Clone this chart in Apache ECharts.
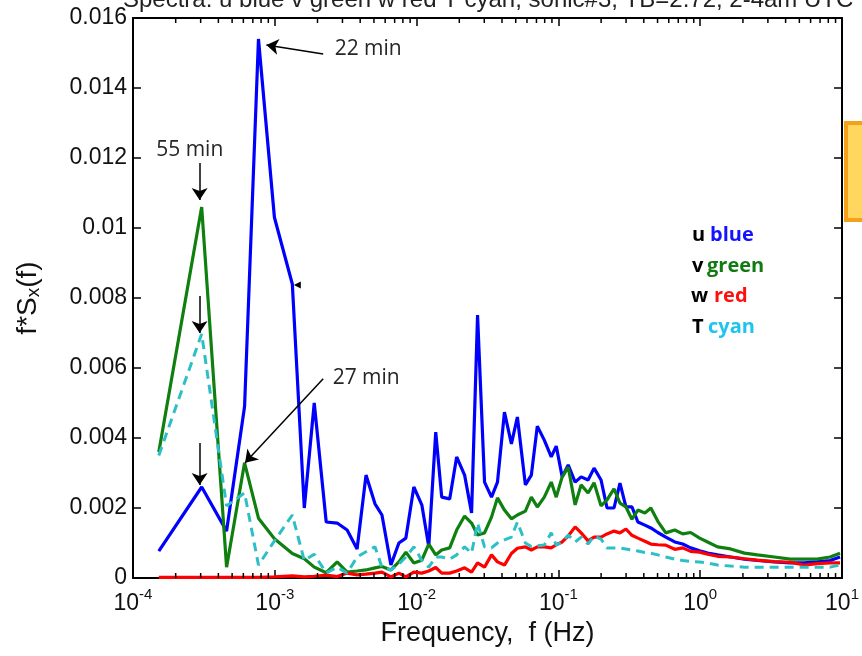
<!DOCTYPE html>
<html>
<head>
<meta charset="utf-8">
<script src="https://cdn.jsdelivr.net/npm/echarts@6/dist/echarts.min.js"></script>
<style>
  html, body { margin: 0; padding: 0; background: #fff; }
  #main { width: 862px; height: 656px; }
</style>
</head>
<body>
<div id="main"></div>
<script>
// frequency bins (Hz), shared by all four spectra
var freq = [1.52e-4, 3.05e-4, 4.57e-4, 6.12e-4, 7.67e-4, 9.94e-4, 1.329e-3, 1.614e-3, 1.897e-3, 2.304e-3,
  2.752e-3, 3.235e-3, 3.803e-3, 4.398e-3, 5.087e-3, 5.696e-3, 6.588e-3, 7.499e-3, 8.40e-3, 9.56e-3,
  1.088e-2, 1.218e-2, 1.364e-2, 1.503e-2, 1.711e-2, 1.916e-2, 2.180e-2, 2.441e-2, 2.690e-2, 3.013e-2,
  3.374e-2, 3.717e-2, 4.163e-2, 4.661e-2, 5.136e-2, 5.847e-2, 6.442e-2, 7.098e-2, 7.95e-2, 8.90e-2,
  9.65e-2, 0.1063, 0.1172, 0.1312, 0.1446, 0.1619, 0.1784, 0.1998, 0.2202, 0.2466,
  0.2716, 0.2993, 0.3298, 0.3634, 0.4071, 0.4485, 0.5023, 0.5715, 0.6611, 0.7522,
  0.8561, 0.9904, 1.127, 1.325, 1.635, 2.050, 2.530, 3.331, 4.314, 5.409,
  6.674, 8.236, 9.68];

// u (blue)
var uVals = [0.00077, 0.0026, 0.00134, 0.0049, 0.0154, 0.0103, 0.0084, 0.0020, 0.0050, 0.0016,
  0.00157, 0.00137, 0.00083, 0.00294, 0.00212, 0.0018, 0.00037, 0.0010, 0.00114, 0.0026,
  0.00209, 0.0009, 0.00417, 0.00231, 0.00226, 0.00346, 0.00294, 0.00186, 0.00751, 0.00274,
  0.00231, 0.00274, 0.00474, 0.00383, 0.0046, 0.00266, 0.00294, 0.00434, 0.00394, 0.00346,
  0.00377, 0.00289, 0.00323, 0.00274, 0.00289, 0.0028, 0.00314, 0.0028, 0.0020, 0.0020,
  0.00271, 0.00203, 0.00203, 0.0016, 0.00151, 0.00143, 0.0013, 0.00117, 0.00103, 0.00097,
  0.00086, 0.00078, 0.00071, 0.00066, 0.0006, 0.00054, 0.0005, 0.00046, 0.00043, 0.00043,
  0.00046, 0.0005, 0.0006];

// v (green)
var vVals = [0.0036, 0.0106, 0.00031, 0.00329, 0.00171, 0.00112, 0.0007, 0.00055, 0.00031, 0.00015,
  0.00046, 0.00017, 0.0002, 0.00023, 0.00029, 0.00033, 0.00023, 0.00046, 0.00074, 0.00043,
  0.00051, 0.00097, 0.00066, 0.0008, 0.00086, 0.00137, 0.00177, 0.00157, 0.00123, 0.00129,
  0.00174, 0.00229, 0.00194, 0.00169, 0.0018, 0.00191, 0.00231, 0.00203, 0.00231, 0.00274,
  0.00231, 0.00289, 0.00317, 0.00209, 0.00266, 0.00243, 0.00272, 0.00206, 0.00223, 0.00255,
  0.00214, 0.00203, 0.00168, 0.00194, 0.00186, 0.002, 0.00162, 0.00129, 0.00137, 0.00126,
  0.0013, 0.00114, 0.00103, 0.00089, 0.00083, 0.00071, 0.00066, 0.0006, 0.00054, 0.00054,
  0.00054, 0.0006, 0.00071];

// w (red)
var wVals = [0.00002, 0.00002, 0.00002, 0.00002, 0.00002, 0.00003, 0.00006, 0.00003, 0.00005, 0.00008,
  0.00004, 0.00014, 0.00009, 0.00011, 0.00014, 0.00017, 0.00003, 0.00014, 0.00003, 0.00017,
  0.00014, 0.0002, 0.0003, 0.00014, 0.00014, 0.0002, 0.00029, 0.00017, 0.00043, 0.00031,
  0.00066, 0.00046, 0.00037, 0.0007, 0.00085, 0.00089, 0.0008, 0.00089, 0.00089, 0.00086,
  0.00095, 0.00103, 0.0012, 0.00146, 0.00129, 0.00106, 0.00117, 0.00117, 0.00126, 0.00134,
  0.00129, 0.0014, 0.00122, 0.00114, 0.00105, 0.00097, 0.00095, 0.00094, 0.00082, 0.00086,
  0.00076, 0.00074, 0.00068, 0.00062, 0.0006, 0.00055, 0.00051, 0.00047, 0.00045, 0.00037,
  0.00041, 0.00043, 0.00043];

// T (cyan, dashed)
var tVals = [0.0035, 0.00697, 0.00206, 0.00243, 0.00037, 0.00106, 0.0018, 0.0005, 0.00068, 0.00014,
  0.00031, 0.00014, 0.0006, 0.00075, 0.00089, 0.00031, 0.00023, 0.0004, 0.0006, 0.00089,
  0.00051, 0.00031, 0.0006, 0.0006, 0.00054, 0.00066, 0.00089, 0.00071, 0.00157, 0.00089,
  0.00086, 0.001, 0.00109, 0.00117, 0.0016, 0.001, 0.0009, 0.00092, 0.00094, 0.00129,
  0.00094, 0.00103, 0.00123, 0.00103, 0.00117, 0.00097, 0.0012, 0.00111, 0.00086, 0.00086,
  0.00086, 0.00083, 0.0008, 0.00077, 0.00073, 0.00071, 0.00066, 0.0006, 0.00054, 0.0005,
  0.00047, 0.00046, 0.00043, 0.00037, 0.00034, 0.00031, 0.00031, 0.00031, 0.00031, 0.00031,
  0.00031, 0.00031, 0.00037];

// minor ticks of the log axis (2..9 inside each decade)
var minorTicks = [];
for (var d = -4; d < 1; d++) {
  for (var m = 2; m <= 9; m++) minorTicks.push([m * Math.pow(10, d), 0]);
}

function pairs(vals) {
  return freq.map(function (f, i) { return [f, vals[i]]; });
}

var FONT = 'Liberation Sans';
var chart = echarts.init(document.getElementById('main'));

var frameLine = { show: true, onZero: false, lineStyle: { color: '#000', width: 2 } };
var tickStyle = { color: '#000', width: 1.5 };

chart.setOption({
  animation: false,
  backgroundColor: '#fff',
  title: {
    text: 'Spectra: u blue v green w red T cyan, sonic#3, TB=2.72, 2-4am UTC',
    left: 118, top: -17,
    textStyle: { fontSize: 24, fontWeight: 'normal', color: '#222', fontFamily: FONT }
  },
  grid: { left: 133, right: 17, top: 18, bottom: 78 },
  xAxis: [{
    type: 'log', logBase: 10, min: 1e-4, max: 10,
    axisLine: frameLine,
    axisTick: { inside: true, length: 8, lineStyle: tickStyle },
    splitLine: { show: false },
    axisLabel: {
      margin: 9,
      formatter: function (v) { return '{b|10}{s|' + Math.round(Math.log10(v)) + '}'; },
      rich: {
        b: { fontSize: 23, fontFamily: FONT, color: '#111', lineHeight: 28, verticalAlign: 'bottom' },
        s: { fontSize: 15, fontFamily: FONT, color: '#111', lineHeight: 16, verticalAlign: 'top' }
      }
    },
    name: 'Frequency,  f (Hz)', nameLocation: 'middle', nameGap: 42,
    nameTextStyle: { fontSize: 27, fontFamily: FONT, color: '#111' }
  }, {
    type: 'log', logBase: 10, min: 1e-4, max: 10, position: 'top',
    axisLine: frameLine,
    axisTick: { inside: true, length: 8, lineStyle: tickStyle },
    axisLabel: { show: false }, splitLine: { show: false }
  }],
  yAxis: [{
    type: 'value', min: 0, max: 0.016, interval: 0.002,
    axisLine: frameLine,
    axisTick: { show: true, inside: true, length: 8, lineStyle: tickStyle },
    splitLine: { show: false },
    axisLabel: { fontSize: 23, fontFamily: FONT, color: '#111', margin: 6 },
    name: '{a|f*S}{x|x}{a|(f)}', nameLocation: 'middle', nameGap: 90, nameRotate: 90,
    nameTextStyle: {
      rich: {
        a: { fontSize: 28, fontFamily: FONT, color: '#111', lineHeight: 29, verticalAlign: 'top' },
        x: { fontSize: 19, fontFamily: FONT, color: '#111', lineHeight: 19, padding: [12, 0, 0, 0], verticalAlign: 'bottom' }
      }
    }
  }, {
    type: 'value', min: 0, max: 0.016, interval: 0.002, position: 'right',
    axisLine: frameLine,
    axisTick: { show: true, inside: true, length: 8, lineStyle: tickStyle },
    axisLabel: { show: false }, splitLine: { show: false }
  }],
  series: [{
    name: 'u', type: 'line', data: pairs(uVals), symbol: 'none',
    lineStyle: { color: '#0000ff', width: 3.2 }, itemStyle: { color: '#0000ff' }
  }, {
    name: 'v', type: 'line', data: pairs(vVals), symbol: 'none',
    lineStyle: { color: '#0f7f10', width: 3.2 }, itemStyle: { color: '#0f7f10' }
  }, {
    name: 'w', type: 'line', data: pairs(wVals), symbol: 'none',
    lineStyle: { color: '#ff0000', width: 3.2 }, itemStyle: { color: '#ff0000' }
  }, {
    name: 'T', type: 'line', data: pairs(tVals), symbol: 'none',
    lineStyle: { color: '#2cc0c6', width: 3, type: [9, 6] }, itemStyle: { color: '#2cc0c6' }
  }, {
    // minor ticks on bottom and top of the box
    type: 'custom', data: minorTicks, silent: true, z: 5,
    renderItem: function (params, api) {
      var b = api.coord([api.value(0), 0]);
      var t = api.coord([api.value(0), 0.016]);
      return {
        type: 'group', children: [
          { type: 'line', shape: { x1: b[0], y1: b[1], x2: b[0], y2: b[1] - 5 }, style: { stroke: '#000', lineWidth: 1.5 } },
          { type: 'line', shape: { x1: t[0], y1: t[1], x2: t[0], y2: t[1] + 5 }, style: { stroke: '#000', lineWidth: 1.5 } }
        ]
      };
    }
  }, {
    // annotation arrows and labels
    name: 'notes', type: 'line', data: [], silent: true, z: 6,
    markLine: {
      silent: true, symbol: ['none', 'arrow'], symbolSize: 12,
      lineStyle: { color: '#000', width: 1.5, type: 'solid' },
      itemStyle: { color: '#000' },
      label: { show: false },
      data: [
        [{ coord: [2.194e-3, 0.01497] }, { coord: [8.73e-4, 0.01523] }],
        [{ coord: [2.95e-4, 0.01186] }, { coord: [2.95e-4, 0.0108] }],
        [{ coord: [2.95e-4, 0.00806] }, { coord: [2.95e-4, 0.0070] }],
        [{ coord: [2.95e-4, 0.00386] }, { coord: [2.95e-4, 0.00266] }],
        [{ coord: [2.194e-3, 0.00569] }, { coord: [6.17e-4, 0.00329] }]
      ]
    },
    markPoint: {
      silent: true, symbol: 'circle', symbolSize: 1,
      itemStyle: { color: 'rgba(0,0,0,0)' },
      label: {
        show: true, formatter: function (p) { return p.name; }, distance: 0,
        color: '#262626', fontSize: 21, fontFamily: 'Open Sans'
      },
      data: [
        { name: '22 min', coord: [2.62e-3, 0.01511], label: { position: 'right' } },
        { name: '55 min', coord: [2.513e-4, 0.01223], label: { position: 'inside' } },
        { name: '27 min', coord: [2.537e-3, 0.00571], label: { position: 'right' } },
        { name: '', coord: [1.441e-3, 0.00837], symbol: 'triangle', symbolSize: 7, symbolRotate: 90,
          itemStyle: { color: '#000' }, label: { show: false } }
      ]
    }
  }],
  graphic: [
    { type: 'rect', shape: { x: 846, y: 123, width: 30, height: 97 }, style: { fill: '#ffd65e', stroke: '#f5a01a', lineWidth: 4 } },
    { type: 'text', x: 692, y: 235, style: { text: 'u', fill: '#000', font: 'bold 20px "Open Sans"', verticalAlign: 'middle' } },
    { type: 'text', x: 710, y: 235, style: { text: 'blue', fill: '#1414ff', font: 'bold 20px "Open Sans"', verticalAlign: 'middle' } },
    { type: 'text', x: 692, y: 266, style: { text: 'v', fill: '#000', font: 'bold 20px "Open Sans"', verticalAlign: 'middle' } },
    { type: 'text', x: 707, y: 266, style: { text: 'green', fill: '#127a12', font: 'bold 20px "Open Sans"', verticalAlign: 'middle' } },
    { type: 'text', x: 691, y: 296, style: { text: 'w', fill: '#000', font: 'bold 20px "Open Sans"', verticalAlign: 'middle' } },
    { type: 'text', x: 714, y: 296, style: { text: 'red', fill: '#ff1010', font: 'bold 20px "Open Sans"', verticalAlign: 'middle' } },
    { type: 'text', x: 692, y: 327, style: { text: 'T', fill: '#000', font: 'bold 20px "Open Sans"', verticalAlign: 'middle' } },
    { type: 'text', x: 708, y: 327, style: { text: 'cyan', fill: '#1ec4f0', font: 'bold 20px "Open Sans"', verticalAlign: 'middle' } }
  ]
});
</script>
</body>
</html>
